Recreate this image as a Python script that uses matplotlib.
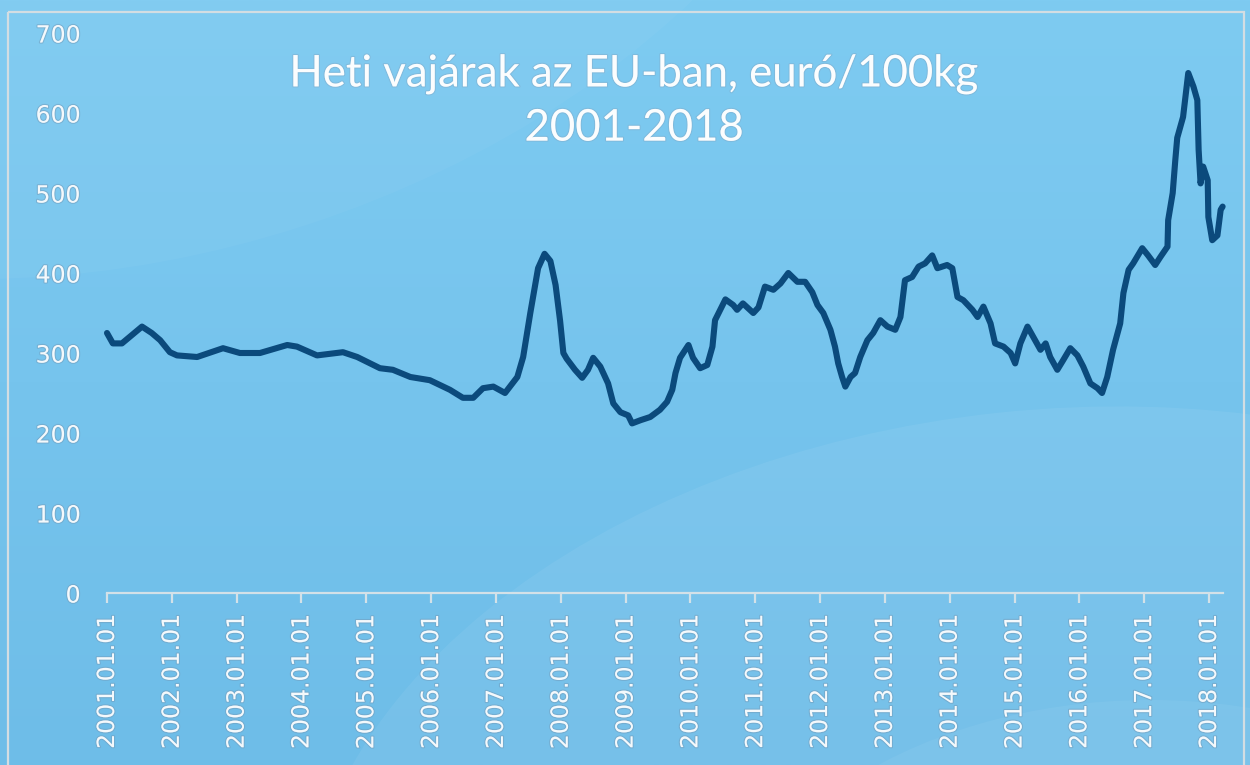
import numpy as np
import matplotlib
matplotlib.use("Agg")
import matplotlib.pyplot as plt
from matplotlib.patches import Rectangle, Ellipse
from matplotlib.colors import LinearSegmentedColormap
import matplotlib.patheffects as pe

# ---- data (decimal year, EUR/100kg) ----
years = [2001.00, 2001.09, 2001.23, 2001.54, 2001.69, 2001.82, 2001.97, 2002.08,
         2002.39, 2002.79, 2003.05, 2003.36, 2003.78, 2003.93, 2004.24, 2004.64,
         2004.86, 2005.21, 2005.41, 2005.68, 2005.98, 2006.29, 2006.49, 2006.65,
         2006.80, 2006.96, 2007.14, 2007.33, 2007.42, 2007.53, 2007.65, 2007.75,
         2007.84, 2007.92, 2007.99, 2008.04, 2008.09, 2008.22, 2008.33, 2008.42,
         2008.50, 2008.61, 2008.73, 2008.81, 2008.92, 2009.04, 2009.10, 2009.23,
         2009.38, 2009.53, 2009.64, 2009.72, 2009.77, 2009.84, 2009.97, 2010.04,
         2010.15, 2010.26, 2010.34, 2010.38, 2010.46, 2010.54, 2010.66, 2010.72,
         2010.81, 2010.97, 2011.05, 2011.15, 2011.28, 2011.39, 2011.51, 2011.65,
         2011.77, 2011.88, 2011.96, 2012.05, 2012.16, 2012.23, 2012.28, 2012.34,
         2012.39, 2012.47, 2012.54, 2012.62, 2012.73, 2012.82, 2012.93, 2013.04,
         2013.16, 2013.24, 2013.31, 2013.42, 2013.52, 2013.62, 2013.73, 2013.81,
         2013.96, 2014.04, 2014.12, 2014.21, 2014.35, 2014.43, 2014.52, 2014.63,
         2014.70, 2014.83, 2014.94, 2015.01, 2015.09, 2015.20, 2015.29, 2015.40,
         2015.48, 2015.55, 2015.66, 2015.75, 2015.86, 2015.97, 2016.06, 2016.17,
         2016.28, 2016.35, 2016.43, 2016.52, 2016.63, 2016.68, 2016.76, 2016.83,
         2016.97, 2017.06, 2017.17, 2017.25, 2017.36, 2017.37, 2017.44, 2017.48,
         2017.51, 2017.60, 2017.68, 2017.76, 2017.82, 2017.84, 2017.87, 2017.91,
         2017.98, 2017.99, 2018.05, 2018.13, 2018.18, 2018.21]
prices = [325, 312, 312, 333, 325, 316, 301, 297,
          295, 306, 300, 300, 310, 308, 297, 301,
          295, 281, 279, 270, 266, 254, 244, 244,
          256, 258, 250, 270, 295, 350, 406, 424,
          415, 385, 340, 300, 293, 279, 269, 279,
          294, 283, 262, 237, 226, 222, 212, 216,
          220, 229, 239, 254, 275, 294, 310, 294,
          281, 285, 308, 341, 354, 367, 360, 354,
          362, 350, 357, 383, 379, 387, 400, 389,
          389, 376, 360, 350, 329, 308, 287, 270,
          258, 270, 275, 295, 316, 325, 341, 333,
          329, 345, 391, 395, 408, 412, 422, 406,
          410, 406, 370, 366, 354, 345, 358, 337,
          312, 308, 300, 287, 312, 333, 320, 304,
          312, 295, 279, 291, 306, 297, 283, 262,
          256, 250, 270, 304, 337, 375, 404, 412,
          431, 422, 410, 420, 433, 466, 500, 541,
          569, 595, 650, 633, 616, 554, 512, 533,
          516, 470, 441, 447, 479, 483]

tick_years = list(range(2001, 2019))
tick_labels = [f"{y}.01.01" for y in tick_years]
y_ticks = [0, 100, 200, 300, 400, 500, 600, 700]
title_text = "Heti vajárak az EU-ban, euró/100kg\n2001-2018"

W, H = 1250, 765
fig = plt.figure(figsize=(W / 100, H / 100), dpi=100)

# ---- background ----
bg = fig.add_axes([0, 0, 1, 1], zorder=-10)
bg.set_xlim(0, W)
bg.set_ylim(H, 0)
bg.axis("off")
cmap = LinearSegmentedColormap.from_list("bg", ["#7ecbf1", "#76c4ed", "#6ebde8"])
grad = np.linspace(0, 1, 256)[:, None]
bg.imshow(grad, extent=[0, W, H, 0], cmap=cmap, aspect="auto", zorder=0)
bg.add_patch(Ellipse((150, -250), 1500, 1000, angle=-18, color="white", alpha=0.035, lw=0, zorder=1))
bg.add_patch(Ellipse((1050, 900), 1500, 980, angle=-6, color="white", alpha=0.06, lw=0, zorder=1))
bg.add_patch(Ellipse((1150, 1020), 900, 640, angle=0, color="white", alpha=0.05, lw=0, zorder=1))
bg.add_patch(Rectangle((8, 12), 1236, 800, fill=False, ec="#d3dde2", lw=1.6, zorder=2))

# ---- main axes ----
x0, x1, ytop, ybot = 107, 1223, 33, 593
ax = fig.add_axes([x0 / W, 1 - ybot / H, (x1 - x0) / W, (ybot - ytop) / H])
ax.patch.set_alpha(0)
ax.plot(years, prices, color="#0b4a7c", lw=4.4, solid_joinstyle="round",
        solid_capstyle="round", clip_on=False, zorder=3)
ax.set_xlim(2001, 2018.216)
ax.set_ylim(0, 700)
for s in ["top", "right", "left"]:
    ax.spines[s].set_visible(False)
ax.spines["bottom"].set_color("#d3e1e8")
ax.spines["bottom"].set_linewidth(1.6)

shadow = [pe.withStroke(linewidth=1.6, foreground=(0.45, 0.62, 0.74, 0.55))]
ax.set_xticks(tick_years)
ax.set_xticklabels(tick_labels, rotation=90, fontsize=17, color="#f4f9fc",
                   family="DejaVu Sans", path_effects=shadow)
ax.tick_params(axis="x", length=7.5, width=1.6, color="#d3e1e8", pad=8)
ax.set_yticks(y_ticks)
ax.set_yticklabels([str(v) for v in y_ticks], fontsize=17, color="#f4f9fc",
                   family="DejaVu Sans", path_effects=shadow)
ax.tick_params(axis="y", length=0, pad=19)

fig.text(634 / W, 1 - 101 / H, title_text, ha="center", va="center",
         fontsize=31.5, color="#fbfdfe", family="Lato", linespacing=1.4,
         path_effects=[pe.withStroke(linewidth=1.6, foreground=(0.5, 0.68, 0.8, 0.5))])

fig.savefig("out.png", dpi=100)
